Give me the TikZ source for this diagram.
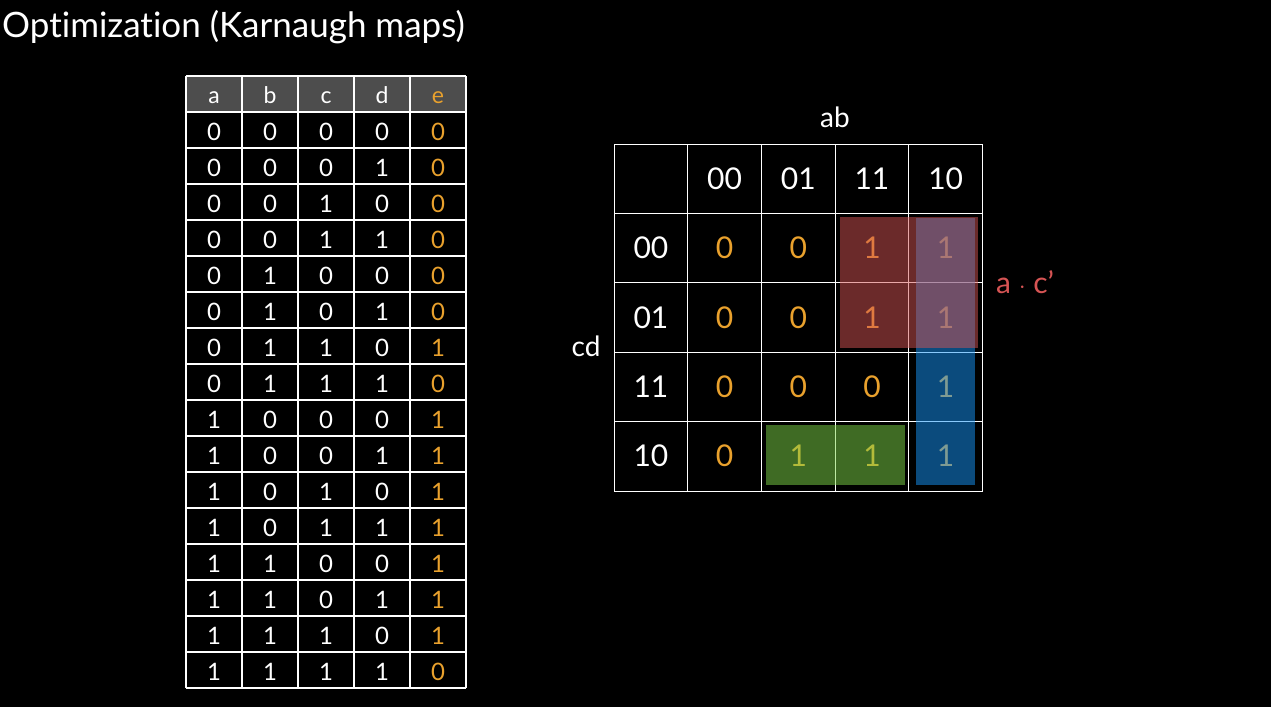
\documentclass[tikz,border=0pt]{standalone}
\usepackage{fontspec}
\setmainfont{Lato}[Ligatures=NoCommon]
\usepackage{tikz}
\definecolor{digit}{HTML}{E9A12D}
\definecolor{headgray}{HTML}{4D4D4D}
\definecolor{groupred}{HTML}{D65454}
\definecolor{groupblue}{HTML}{1696FA}
\definecolor{groupgreen}{HTML}{7ED648}
\tikzset{
    %Define style for truth table entries
    cell/.style={
    text=white,
    font=\fontsize{24}{28}\selectfont,
    anchor=base,
    inner sep=0pt
   },
   outcell/.style={
    cell,
    text=digit
   },
   headcell/.style={
    cell,
    font=\fontsize{23}{27}\selectfont
   },
    %Define style for the map
   kcell/.style={
    text=white,
    font=\fontsize{30}{34}\selectfont,
    anchor=base,
    inner sep=0pt
   },
   kval/.style={
    kcell,
    text=digit
   },
   klabel/.style={
    text=white,
    font=\fontsize{28}{32}\selectfont,
    anchor=base,
    inner sep=0pt
   },
    % Define line style
   gridline/.style={
    white,
    line width=1.2pt
   },
   group/.style={
    fill=#1,
    opacity=.5
   },
}
\begin{document}
\begin{tikzpicture}[x=1pt,y=-1pt]
\fill[black] (0,0) rectangle (1271,707);
\useasboundingbox (0,0) rectangle (1271,707);
%title
\node[text=white, font=\fontsize{35}{40}\selectfont, anchor=base west, inner sep=0pt](title) at (2,37){Optimization (Karnaugh maps)};
%truth table
\fill[headgray] (186,76) rectangle (466,112);
\foreach \x in {186,242,298,354,410,466}
  \draw[gridline] (\x,76) -- (\x,688);
\foreach \y in {76,112,...,688}
  \draw[gridline] (186,\y) -- (466,\y);
\node[headcell](ha) at (214,103){a};
\node[headcell](hb) at (270,103){b};
\node[headcell](hc) at (326,103){c};
\node[headcell](hd) at (382,103){d};
\node[headcell, text=digit](he) at (438,103){e};
\foreach \a/\b/\c/\d/\e [count=\r] in {0/0/0/0/0,0/0/0/1/0,0/0/1/0/0,0/0/1/1/0,
  0/1/0/0/0,0/1/0/1/0,0/1/1/0/1,0/1/1/1/0,1/0/0/0/1,1/0/0/1/1,1/0/1/0/1,
  1/0/1/1/1,1/1/0/0/1,1/1/0/1/1,1/1/1/0/1,1/1/1/1/0}{
  \node[cell](a\r) at (214,{36*\r+104}){\a};
  \node[cell](b\r) at (270,{36*\r+104}){\b};
  \node[cell](c\r) at (326,{36*\r+104}){\c};
  \node[cell](d\r) at (382,{36*\r+104}){\d};
  \node[outcell](e\r) at (438,{36*\r+104}){\e};
}
%karnaugh map
\foreach \i in {0,...,5}{
  \draw[gridline, line width=1pt] ({614+73.7*\i},144.3) -- ++(0,346.7);
  \draw[gridline, line width=1pt] (614,{144.3+69.34*\i}) -- ++(368.5,0);
}
\node[klabel](ab) at (835,127.3){ab};
\node[klabel](cd) at (586,356.7){cd};
\foreach \lab [count=\i] in {00,01,11,10}{
  \node[kcell](col\i) at ({614+73.7*(\i+0.5)},189.5){\lab};
  \node[kcell](row\i) at (650.9,{189.5+69.34*\i}){\lab};
}
\foreach \p/\q/\s/\t [count=\j] in {0/0/1/1,0/0/1/1,0/0/0/1,0/1/1/1}{
  \node[kval](m\j1) at (724.6,{189.5+69.34*\j}){\p};
  \node[kval](m\j2) at (798.3,{189.5+69.34*\j}){\q};
  \node[kval](m\j3) at (872.0,{189.5+69.34*\j}){\s};
  \node[kval](m\j4) at (945.6,{189.5+69.34*\j}){\t};
}
%groups
\fill[group=groupblue] (916,218) rectangle (975,485);
\fill[group=groupgreen] (766,425) rectangle (905,485);
\fill[group=groupred] (840,217) rectangle (978,348);
\node[klabel, text=groupred, anchor=base west, font=\fontsize{30}{34}\selectfont](ac) at (996,293.3){a $\cdot$ c’};
\end{tikzpicture}
\end{document}
